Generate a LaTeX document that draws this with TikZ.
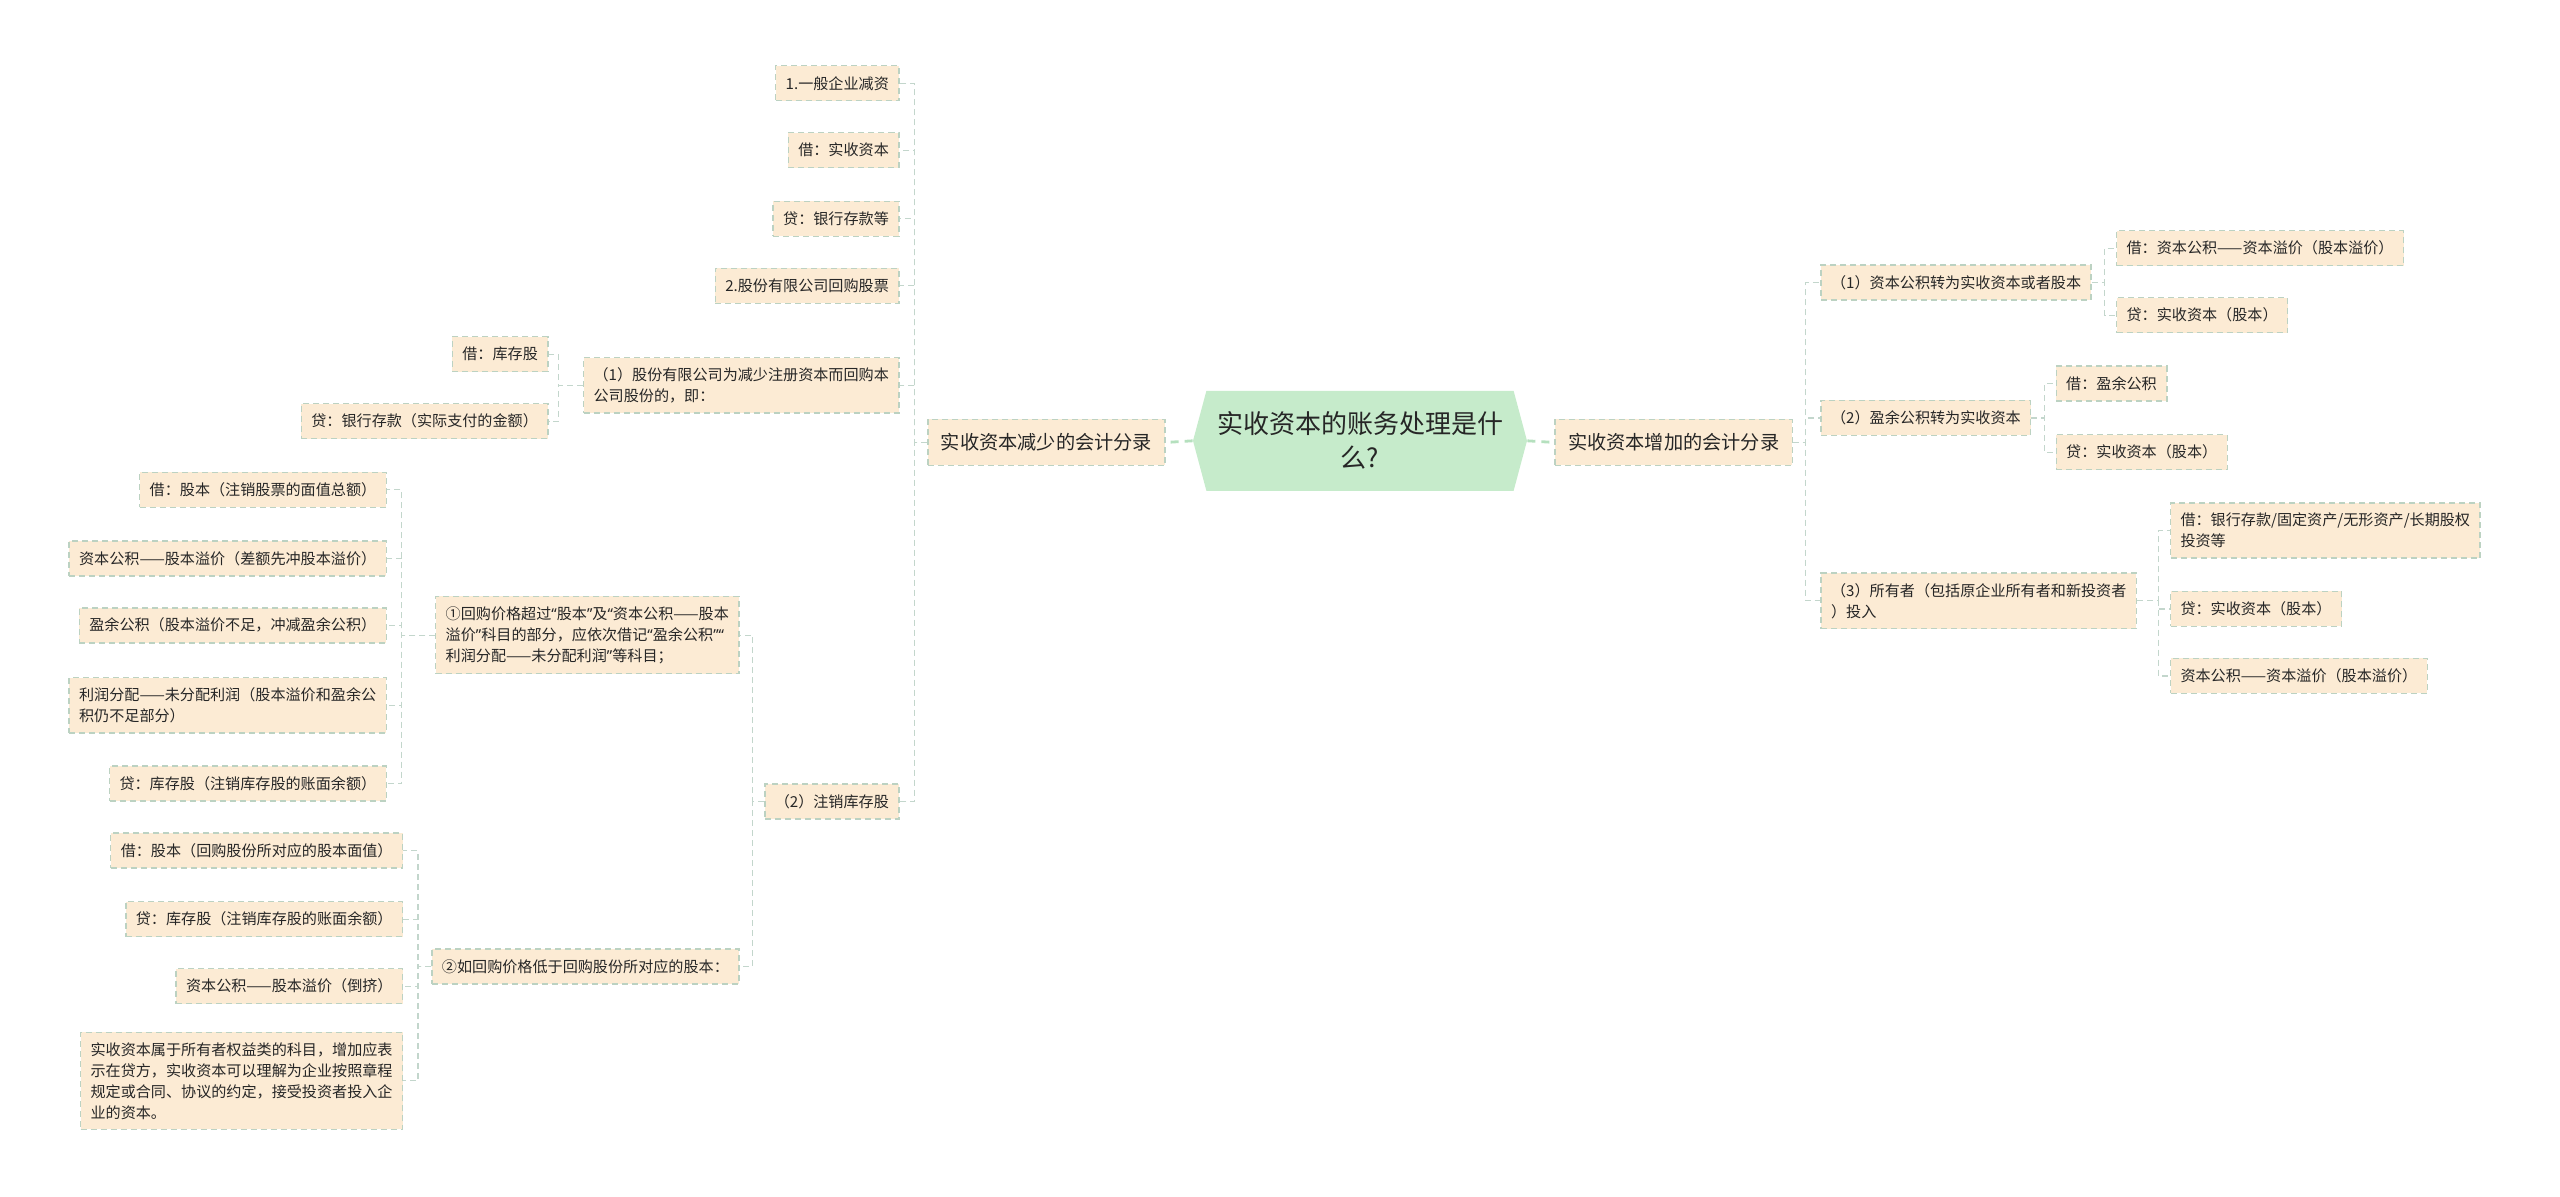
\documentclass[tikz,border=0pt]{standalone}
\usepackage{fontspec}
\setmainfont{Noto Sans CJK SC}
\newfontfamily\latinq{Noto Sans}
\newcommand{\qopen}{{\latinq “}}
\newcommand{\qclose}{{\latinq ”}}
\usetikzlibrary{shapes.symbols}
\definecolor{boxfill}{HTML}{FCEBD4}
\definecolor{boxline}{HTML}{BCD2C2}
\definecolor{connline}{HTML}{C3D6CC}
\definecolor{hexfill}{HTML}{C6EBCB}
\definecolor{hexline}{HTML}{B5E0BE}
\definecolor{txt}{HTML}{262626}
\tikzset{
 leaf/.style={draw=boxline, fill=boxfill, dash pattern=on 3pt off 2pt, line width=0.7pt,
   font=\fontsize{7.55pt}{10.5pt}\selectfont, text=txt, align=left,
   inner xsep=5pt, inner ysep=5pt, minimum height=17.5pt},
 mid/.style={leaf, font=\fontsize{9.6pt}{12pt}\selectfont, inner xsep=6.5pt, minimum height=23pt},
 hub/.style={shape=signal, signal to=west and east, signal pointer angle=150, fill=hexfill,
   minimum width=167pt, minimum height=50pt, font=\fontsize{13pt}{17pt}\selectfont,
   align=center, text=txt, inner xsep=0pt, inner ysep=4pt},
 conn/.style={draw=connline, dash pattern=on 3pt off 2pt, line width=0.6pt},
 hubconn/.style={draw=hexline, dash pattern=on 4pt off 3pt, line width=1.4pt},
}
\begin{document}
\begin{tikzpicture}[x=0.8163pt, y=-0.8163pt]
\useasboundingbox (0,0) rectangle (1568,733);

% hub
\node[hub] (c) at (833,270) {实收资本的账务处理是什\\么?};
\node[mid, anchor=east] (L) at (714,271) {实收资本减少的会计分录};
\node[mid, anchor=west] (R) at (952,271) {实收资本增加的会计分录};
\draw[hubconn] (c.west) -- (L.east);
\draw[hubconn] (c.east) -- (R.east -| R.west);

% trunks
\coordinate (tA) at (560,0);
\coordinate (tB) at (342,0);
\coordinate (tC) at (461,0);
\coordinate (tD) at (246,0);
\coordinate (tE) at (256,0);
\coordinate (tR) at (1106,0);
\coordinate (tF) at (1289,0);
\coordinate (tG) at (1252,0);
\coordinate (tH) at (1322,0);

% left children
\node[leaf, anchor=east] (a1) at (551,51) {1.一般企业减资};
\node[leaf, anchor=east] (a2) at (551,92) {借：实收资本};
\node[leaf, anchor=east] (a3) at (551,134) {贷：银行存款等};
\node[leaf, anchor=east] (a4) at (551,175) {2.股份有限公司回购股票};
\node[leaf, anchor=east] (a5) at (551,236) {（1）股份有限公司为减少注册资本而回购本\\公司股份的，即：};
\node[leaf, anchor=east] (a6) at (551,491) {（2）注销库存股};
\foreach \n in {a1,a2,a3,a4,a5,a6}
  \draw[conn] (L.west) -- (L.west -| tA) |- (\n.east);

\node[leaf, anchor=east] (b1) at (336,217) {借：库存股};
\node[leaf, anchor=east] (b2) at (336,258) {贷：银行存款（实际支付的金额）};
\foreach \n in {b1,b2}
  \draw[conn] (a5.west) -- (a5.west -| tB) |- (\n.east);

\node[leaf, anchor=east] (c1) at (453,389) {①回购价格超过\qopen 股本\qclose 及\qopen 资本公积——股本\\溢价\qclose 科目的部分，应依次借记\qopen 盈余公积\qclose\qopen\\利润分配——未分配利润\qclose 等科目；};
\node[leaf, anchor=east] (c2) at (453,592) {②如回购价格低于回购股份所对应的股本：};
\foreach \n in {c1,c2}
  \draw[conn] (a6.west) -- (a6.west -| tC) |- (\n.east);

\node[leaf, anchor=east] (d1) at (237,300) {借：股本（注销股票的面值总额）};
\node[leaf, anchor=east] (d2) at (237,342) {资本公积——股本溢价（差额先冲股本溢价）};
\node[leaf, anchor=east] (d3) at (237,383) {盈余公积（股本溢价不足，冲减盈余公积）};
\node[leaf, anchor=east] (d4) at (237,432) {利润分配——未分配利润（股本溢价和盈余公\\积仍不足部分）};
\node[leaf, anchor=east] (d5) at (237,480) {贷：库存股（注销库存股的账面余额）};
\foreach \n in {d1,d2,d3,d4,d5}
  \draw[conn] (c1.west) -- (c1.west -| tD) |- (\n.east);

\node[leaf, anchor=east] (e1) at (247,521) {借：股本（回购股份所对应的股本面值）};
\node[leaf, anchor=east] (e2) at (247,563) {贷：库存股（注销库存股的账面余额）};
\node[leaf, anchor=east] (e3) at (247,604) {资本公积——股本溢价（倒挤）};
\node[leaf, anchor=east] (e4) at (247,662) {实收资本属于所有者权益类的科目，增加应表\\示在贷方，实收资本可以理解为企业按照章程\\规定或合同、协议的约定，接受投资者投入企\\业的资本。};
\foreach \n in {e1,e2,e3,e4}
  \draw[conn] (c2.west) -- (c2.west -| tE) |- (\n.east);

% right children
\node[leaf, anchor=west] (f1) at (1115,173) {（1）资本公积转为实收资本或者股本};
\node[leaf, anchor=west] (f2) at (1115,256) {（2）盈余公积转为实收资本};
\node[leaf, anchor=west] (f3) at (1115,368) {（3）所有者（包括原企业所有者和新投资者\\）投入};
\foreach \n in {f1,f2,f3}
  \draw[conn] (R.east) -- (R.east -| tR) |- (\n.west);

\node[leaf, anchor=west] (g1) at (1296,152) {借：资本公积——资本溢价（股本溢价）};
\node[leaf, anchor=west] (g2) at (1296,193) {贷：实收资本（股本）};
\foreach \n in {g1,g2}
  \draw[conn] (f1.east) -- (f1.east -| tF) |- (\n.west);

\node[leaf, anchor=west] (h1) at (1259,235) {借：盈余公积};
\node[leaf, anchor=west] (h2) at (1259,277) {贷：实收资本（股本）};
\foreach \n in {h1,h2}
  \draw[conn] (f2.east) -- (f2.east -| tG) |- (\n.west);

\node[leaf, anchor=west] (i1) at (1329,325) {借：银行存款/固定资产/无形资产/长期股权\\投资等};
\node[leaf, anchor=west] (i2) at (1329,373) {贷：实收资本（股本）};
\node[leaf, anchor=west] (i3) at (1329,414) {资本公积——资本溢价（股本溢价）};
\foreach \n in {i1,i2,i3}
  \draw[conn] (f3.east) -- (f3.east -| tH) |- (\n.west);
\end{tikzpicture}
\end{document}
